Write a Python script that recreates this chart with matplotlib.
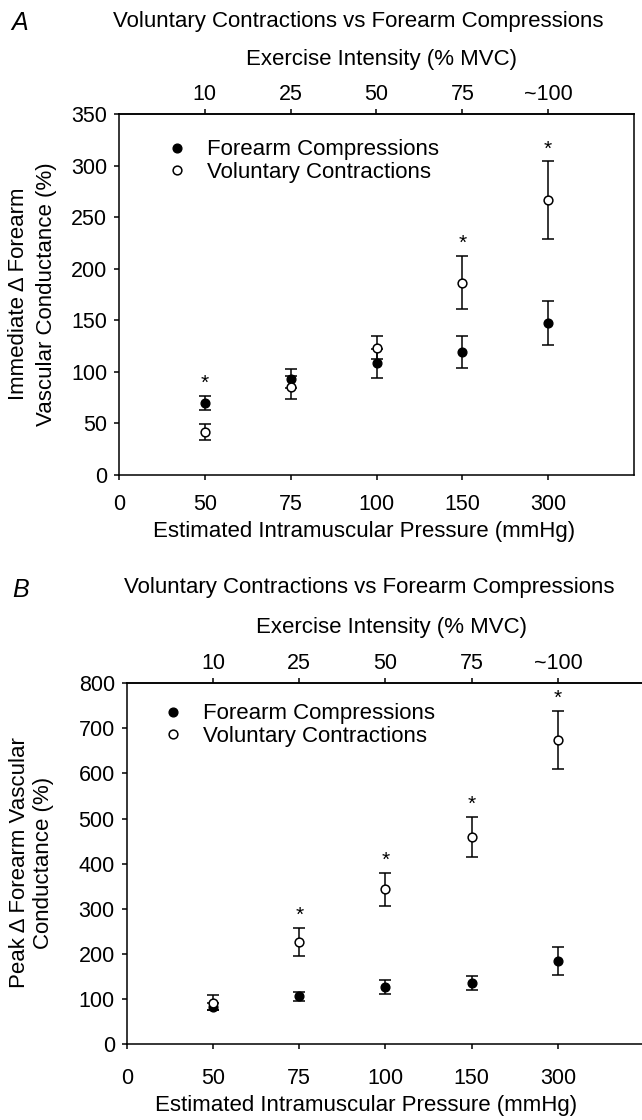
import matplotlib
matplotlib.use('Agg')
import matplotlib.pyplot as plt
from matplotlib.lines import Line2D

plt.rcParams['font.family'] = ['Liberation Sans', 'DejaVu Sans']

# ---------------- data ----------------
x_pos = [1, 2, 3, 4, 5]
pressure_ticks = [0, 1, 2, 3, 4, 5]
pressure_labels = ['0', '50', '75', '100', '150', '300']
intensity_labels = ['10', '25', '50', '75', '~100']
series_names = ['Forearm Compressions', 'Voluntary Contractions']

# Panel A: immediate change in FVC (%)
a_fc_mean = [70, 93.5, 108.5, 119.5, 147.5]
a_fc_err = [7, 9.5, 14, 15.5, 21]
a_vc_mean = [41.5, 85, 123.5, 186.5, 266.5]
a_vc_err = [8, 11, 11, 26, 38]
a_sig = [True, False, False, True, True]

# Panel B: peak change in FVC (%)
b_fc_mean = [83, 105.5, 127, 135, 184]
b_fc_err = [8, 10, 16, 16, 31]
b_vc_mean = [92, 227, 343, 459, 674]
b_vc_err = [17, 31, 37, 45, 65]
b_sig = [False, True, True, True, True]

# ---------------- layout ----------------
W, H = 642, 1120
fig = plt.figure(figsize=(W / 100, H / 100), dpi=100)


def rect(left, top, right, bottom):
    return [left / W, 1 - bottom / H, (right - left) / W, (bottom - top) / H]


TXT = 16
TICK = 15.5


def panel(r, fc_m, fc_e, vc_m, vc_e, sig, ymax, ystep, letter, ylabel,
          title_xy, letter_xy, ex_xy, xl_xy, yl_xy, yl_ls, bpad, leg_anchor):
    ax = fig.add_axes(rect(*r))
    ax.errorbar(x_pos, fc_m, yerr=fc_e, fmt='o', color='black', ms=6.3,
                mfc='black', mec='black', capsize=4, elinewidth=1.1,
                capthick=1.1, zorder=3)
    ax.errorbar(x_pos, vc_m, yerr=vc_e, fmt='o', color='black', ms=6.3,
                mfc='white', mec='black', mew=1.1, capsize=4, elinewidth=1.1,
                capthick=1.1, zorder=4)
    for xi, s, m1, e1, m2, e2 in zip(x_pos, sig, fc_m, fc_e, vc_m, vc_e):
        if s:
            top = max(m1 + e1, m2 + e2)
            ax.annotate('*', xy=(xi, top), xytext=(0, 12),
                        textcoords='offset pixels', ha='center', va='center',
                        fontsize=15)
    ax.set_xlim(0, 6)
    ax.set_ylim(0, ymax)
    ax.set_xticks(pressure_ticks)
    ax.set_xticklabels(pressure_labels)
    ax.set_yticks(range(0, ymax + 1, ystep))
    for sp in ax.spines.values():
        sp.set_linewidth(1.1)
    ax.tick_params(axis='both', direction='out', length=3.6, width=1.1,
                   labelsize=TICK)
    ax.tick_params(axis='y', pad=5)
    ax.tick_params(axis='x', pad=bpad)
    sec = ax.secondary_xaxis('top')
    sec.set_xticks(x_pos)
    sec.set_xticklabels(intensity_labels)
    sec.tick_params(direction='out', length=3.6, width=1.1, labelsize=TICK,
                    pad=3.0)
    sec.spines['top'].set_linewidth(1.1)

    fig.text(title_xy[0] / W, 1 - title_xy[1] / H,
             'Voluntary Contractions vs Forearm Compressions',
             ha='center', va='center', fontsize=TXT)
    fig.text(letter_xy[0] / W, 1 - letter_xy[1] / H, letter,
             ha='center', va='center', fontsize=18, style='italic')
    fig.text(ex_xy[0] / W, 1 - ex_xy[1] / H, 'Exercise Intensity (% MVC)',
             ha='center', va='center', fontsize=TXT)
    fig.text(xl_xy[0] / W, 1 - xl_xy[1] / H,
             'Estimated Intramuscular Pressure (mmHg)',
             ha='center', va='center', fontsize=TXT)
    fig.text(yl_xy[0] / W, 1 - yl_xy[1] / H, ylabel, rotation=90,
             ha='center', va='center', multialignment='center',
             fontsize=TXT, linespacing=yl_ls)
    handles = [
        Line2D([], [], ls='none', marker='o', ms=6.3, mfc='black',
               mec='black'),
        Line2D([], [], ls='none', marker='o', ms=6.3, mfc='white',
               mec='black', mew=1.1),
    ]
    ax.legend(handles, series_names, loc='center left',
              bbox_to_anchor=(leg_anchor[0] / W, 1 - leg_anchor[1] / H),
              bbox_transform=fig.transFigure, frameon=False, fontsize=TXT,
              handlelength=1.0, handletextpad=0.85, labelspacing=0.05,
              borderpad=0, borderaxespad=0)
    return ax


panel((119, 114, 634, 475), a_fc_mean, a_fc_err, a_vc_mean, a_vc_err, a_sig,
      350, 50, 'A', 'Immediate \u0394 Forearm\nVascular Conductance (%)',
      (358, 22), (20, 23), (381, 60), (364, 532), (32.5, 294), 1.38, 10.0,
      (166, 161))

panel((126.7, 683.3, 644.2, 1044), b_fc_mean, b_fc_err, b_vc_mean, b_vc_err,
      b_sig, 800, 100, 'B', 'Peak \u0394 Forearm Vascular\nConductance (%)',
      (369, 587), (21, 590), (391, 628), (366, 1106), (31.5, 863), 1.15, 14.0,
      (162, 725))

fig.savefig('out.png', dpi=100)
